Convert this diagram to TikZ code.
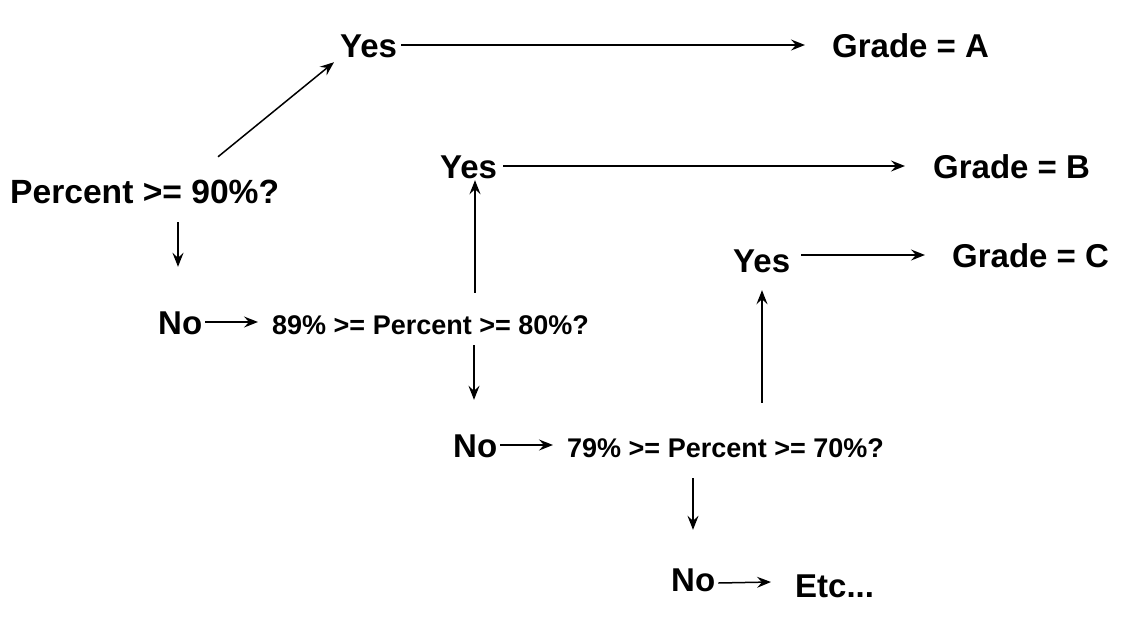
\documentclass[tikz,border=0pt]{standalone}
\usepackage{fontspec}
\setmainfont{Liberation Sans}
\usetikzlibrary{arrows.meta,calc}
\begin{document}
\begin{tikzpicture}[x=1pt,y=1pt,
  lbl/.style={inner sep=0pt, anchor=base west, font=\fontsize{33}{40}\selectfont\bfseries, text height=24pt, text depth=0pt},
  big/.style={inner sep=0pt, anchor=base west, font=\fontsize{33.6}{40}\selectfont\bfseries, text height=24pt, text depth=0pt},
  mid/.style={inner sep=0pt, anchor=base west, font=\fontsize{27}{32}\selectfont\bfseries, text height=19pt, text depth=0pt},
  arr/.style={line width=1.5pt, -{Stealth[length=14pt,width=11pt,inset=5pt]}}]
\useasboundingbox (0,0) rectangle (1128,-630);
% nodes
\node[big] (p90) at (10,-203) {Percent >= 90\%?};
\node[lbl] (yes1) at (340,-57) {Yes};
\node[lbl] (gA) at (832,-57) {Grade = A};
\node[lbl] (yes2) at (440,-178) {Yes};
\node[lbl] (gB) at (933,-178) {Grade = B};
\node[lbl] (yes3) at (733,-272) {Yes};
\node[lbl] (gC) at (952,-267) {Grade = C};
\node[lbl] (no1) at (158,-334) {No};
\node[mid] (m80) at (272,-334) {89\% >= Percent >= 80\%?};
\node[lbl] (no2) at (453,-457) {No};
\node[mid] (m70) at (567,-457) {79\% >= Percent >= 70\%?};
\node[lbl] (no3) at (671,-591) {No};
\node[lbl] (etc) at (795,-597) {Etc...};
% connectors
\draw[arr] ($(p90.north west)+(208,22)$) -- ($(yes1.south west)+(-6,-5)$);
\draw[arr, shorten <=4pt, shorten >=27pt] (yes1.east) -- (yes1.east -| gA.west);
\draw[arr, shorten <=6pt, shorten >=28pt] (yes2.east) -- (yes2.east -| gB.west);
\draw[arr] ($(yes3.east |- gC.west)+(11,0)$) -- ($(gC.west)+(-27,0)$);
\draw[arr] ($(p90.south west)+(168,-19)$) -- ($(no1.north west)+(20,43)$);
\draw[arr, shorten <=3pt, shorten >=14pt] (no1.east) -- (no1.east -| m80.west);
\draw[arr] ($(m80.north west)+(203,22)$) -- ($(yes2.south west)+(35,-2)$);
\draw[arr] ($(m80.south west)+(202,-11)$) -- ($(no2.north west)+(21,33)$);
\draw[arr, shorten <=3pt, shorten >=14pt] (no2.east) -- (no2.east -| m70.west);
\draw[arr] ($(m70.north west)+(195,35)$) -- ($(yes3.south west)+(29,-18)$);
\draw[arr] ($(m70.south west)+(126,-21)$) -- ($(no3.north west)+(22,37)$);
\draw[arr] ($(no3.east)+(3,-4)$) -- ($(etc.west)+(-24,3)$);
\end{tikzpicture}
\end{document}
